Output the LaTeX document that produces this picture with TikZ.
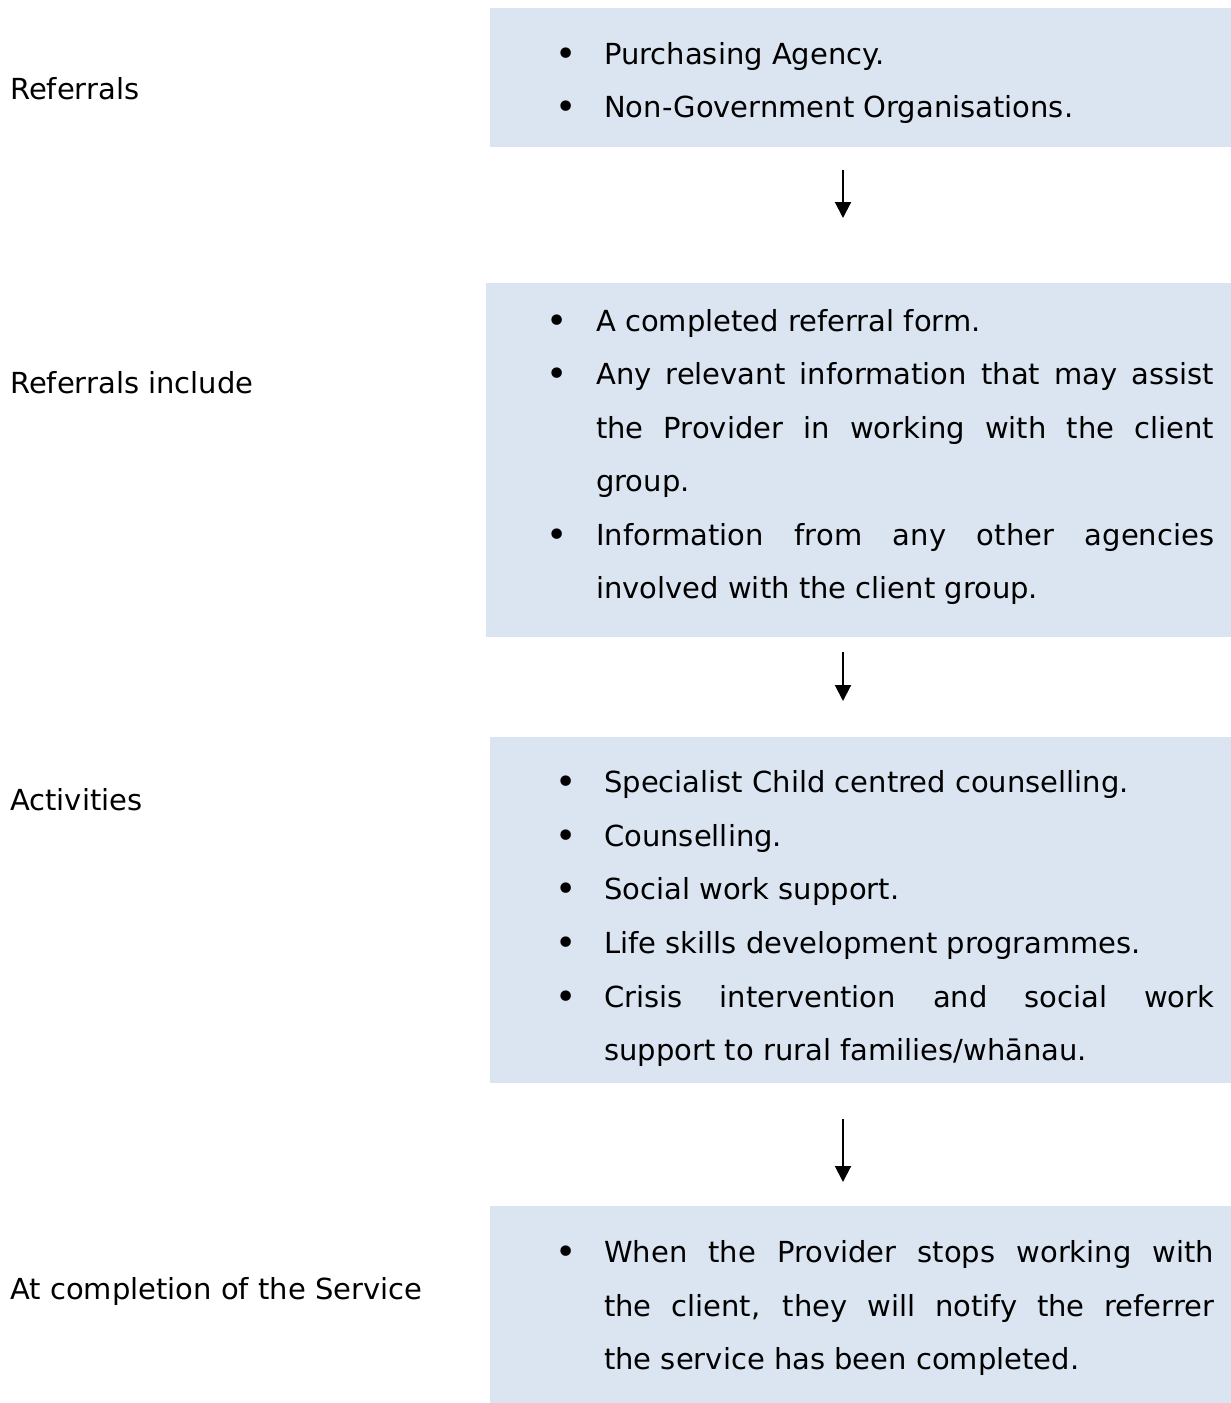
\documentclass[tikz,border=0pt]{standalone}
\usepackage{fontspec}
\setmainfont{DejaVu Sans}
\usetikzlibrary{arrows.meta}
\definecolor{boxblue}{RGB}{219,229,241}
\begin{document}
\begin{tikzpicture}[x=1pt,y=-1pt,
  box/.style={fill=boxblue, draw=none, inner sep=0pt, anchor=north west},
  lbl/.style={anchor=base west, inner sep=0pt, font=\fontsize{29}{35}\selectfont},
  txt/.style={anchor=base west, inner sep=0pt, font=\fontsize{29}{35}\selectfont},
  bul/.style={anchor=base, inner sep=0pt, yshift=-2pt, font=\fontsize{36}{40}\selectfont},
  flow/.style={line width=2pt, -{Triangle[length=16pt,width=16pt]}}
]
\useasboundingbox (0,0) rectangle (1231,1403);
% boxes
\node[box, minimum width=741pt, minimum height=139pt] (b1) at (490,8) {};
\node[box, minimum width=745pt, minimum height=354pt] (b2) at (486,283) {};
\node[box, minimum width=741pt, minimum height=346pt] (b3) at (490,737) {};
\node[box, minimum width=741pt, minimum height=197pt] (b4) at (490,1206) {};
% left labels
\node[lbl] (l1) at (10,99) {Referrals};
\node[lbl] (l2) at (10,393) {Referrals include};
\node[lbl] (l3) at (10,810) {Activities};
\node[lbl] (l4) at (10,1299) {At completion of the Service};
% box 1
\node[bul] (p1) at (566,64) {\textbullet};
\node[txt] (t11) at (604,64) {Purchasing Agency.};
\node[bul] (p2) at (566,117) {\textbullet};
\node[txt] (t12) at (604,117) {Non-Government Organisations.};
% box 2
\node[bul] (q1) at (557,331) {\textbullet};
\node[txt] (t21) at (596,331) {A completed referral form.};
\node[bul] (q2) at (557,384) {\textbullet};
\node[txt] (t22) at (596,384) {\makebox[618pt][s]{Any relevant information that may assist}};
\node[txt] (t23) at (596,438) {\makebox[618pt][s]{the Provider in working with the client}};
\node[txt] (t24) at (596,491) {group.};
\node[bul] (q3) at (557,545) {\textbullet};
\node[txt] (t25) at (596,545) {\makebox[618pt][s]{Information from any other agencies}};
\node[txt] (t26) at (596,598) {involved with the client group.};
% box 3
\node[bul] (r1) at (566,792) {\textbullet};
\node[txt] (t31) at (604,792) {Specialist Child centred counselling.};
\node[bul] (r2) at (566,846) {\textbullet};
\node[txt] (t32) at (604,846) {Counselling.};
\node[bul] (r3) at (566,899) {\textbullet};
\node[txt] (t33) at (604,899) {Social work support.};
\node[bul] (r4) at (566,953) {\textbullet};
\node[txt] (t34) at (604,953) {Life skills development programmes.};
\node[bul] (r5) at (566,1007) {\textbullet};
\node[txt] (t35) at (604,1007) {\makebox[610pt][s]{Crisis intervention and social work}};
\node[txt] (t36) at (604,1060) {support to rural families/whānau.};
% box 4
\node[bul] (s1) at (566,1262) {\textbullet};
\node[txt] (t41) at (604,1262) {\makebox[610pt][s]{When the Provider stops working with}};
\node[txt] (t42) at (604,1316) {\makebox[610pt][s]{the client, they will notify the referrer}};
\node[txt] (t43) at (604,1369) {the service has been completed.};
% arrows
\coordinate (a1s) at (843,170);
\coordinate (a1e) at (843,218);
\coordinate (a2s) at (843,652);
\coordinate (a2e) at (843,701);
\coordinate (a3s) at (843,1119);
\coordinate (a3e) at (843,1182);
\draw[flow] (a1s) -- (a1e);
\draw[flow] (a2s) -- (a2e);
\draw[flow] (a3s) -- (a3e);
\end{tikzpicture}
\end{document}
